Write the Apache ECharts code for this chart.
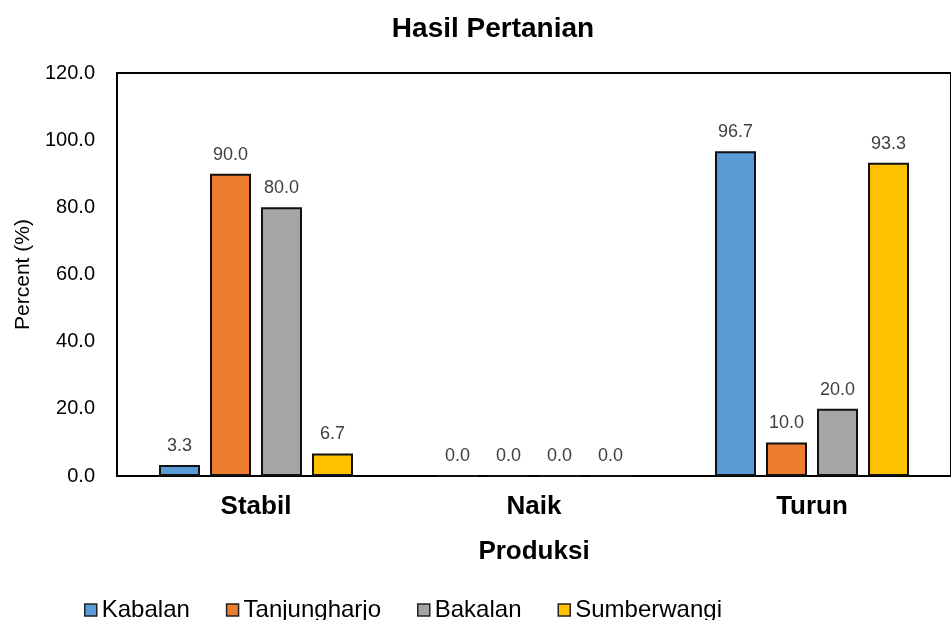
<!DOCTYPE html>
<html>
<head>
<meta charset="utf-8">
<script src="https://cdn.jsdelivr.net/npm/echarts@6/dist/echarts.min.js"></script>
<style>
  html, body { margin: 0; padding: 0; background: #fff; }
  #chart { width: 951px; height: 620px; }
</style>
</head>
<body>
<div id="chart"></div>
<script>
// data
var categories = ['Stabil', 'Naik', 'Turun'];
var seriesNames = ['Kabalan', 'Tanjungharjo', 'Bakalan', 'Sumberwangi'];
var kabalan = [3.3, 0.0, 96.7];
var tanjungharjo = [90.0, 0.0, 10.0];
var bakalan = [80.0, 0.0, 20.0];
var sumberwangi = [6.7, 0.0, 93.3];
var colors = ['#5B9BD5', '#ED7D31', '#A5A5A5', '#FFC000'];

var allValues = [kabalan, tanjungharjo, bakalan, sumberwangi];
var font = 'Liberation Sans, Arial, sans-serif';

var myChart = echarts.init(document.getElementById('chart'));

var series = [];
for (var i = 0; i < seriesNames.length; i++) {
    series.push({
        name: seriesNames[i],
        type: 'bar',
        data: allValues[i],
        barWidth: 41,
        barGap: '24.4%',
        itemStyle: { color: colors[i], borderColor: '#111', borderWidth: 2 },
        label: {
            show: true,
            position: 'top',
            distance: 10,
            color: '#404040',
            fontFamily: font,
            fontSize: 18,
            formatter: function (p) { return p.value.toFixed(1); }
        }
    });
}

myChart.setOption({
    animation: false,
    textStyle: { fontFamily: font },
    title: {
        text: 'Hasil Pertanian',
        left: 488,
        textAlign: 'center',
        top: 10,
        textStyle: { fontSize: 28, fontWeight: 'bold', color: '#000', fontFamily: font }
    },
    legend: {
        data: seriesNames,
        left: 79,
        top: 593,
        icon: 'rect',
        itemWidth: 12,
        itemHeight: 12,
        itemGap: 36,
        textStyle: { fontSize: 24, color: '#000', fontFamily: font },
        itemStyle: { borderColor: '#222', borderWidth: 1.5 }
    },
    grid: {
        left: 117,
        top: 73,
        right: -6,
        bottom: 144,
        show: true,
        borderColor: '#000',
        borderWidth: 2
    },
    xAxis: {
        type: 'category',
        data: categories,
        name: 'Produksi',
        nameLocation: 'middle',
        nameGap: 63,
        nameTextStyle: { fontSize: 26, fontWeight: 'bold', color: '#000', fontFamily: font },
        axisLine: { lineStyle: { color: '#000', width: 2 } },
        axisTick: { show: false },
        axisLabel: { fontSize: 26, fontWeight: 'bold', color: '#000', margin: 18, fontFamily: font }
    },
    yAxis: {
        type: 'value',
        min: 0,
        max: 120,
        interval: 20,
        name: 'Percent (%)',
        nameLocation: 'middle',
        nameGap: 78,
        nameTextStyle: { fontSize: 21, color: '#000', fontFamily: font },
        axisLine: { show: true, lineStyle: { color: '#000', width: 2 } },
        axisTick: { show: false },
        splitLine: { show: false },
        axisLabel: {
            fontSize: 20,
            color: '#000',
            margin: 22,
            fontFamily: font,
            formatter: function (v) { return v.toFixed(1); }
        }
    },
    series: series
});
</script>
</body>
</html>
